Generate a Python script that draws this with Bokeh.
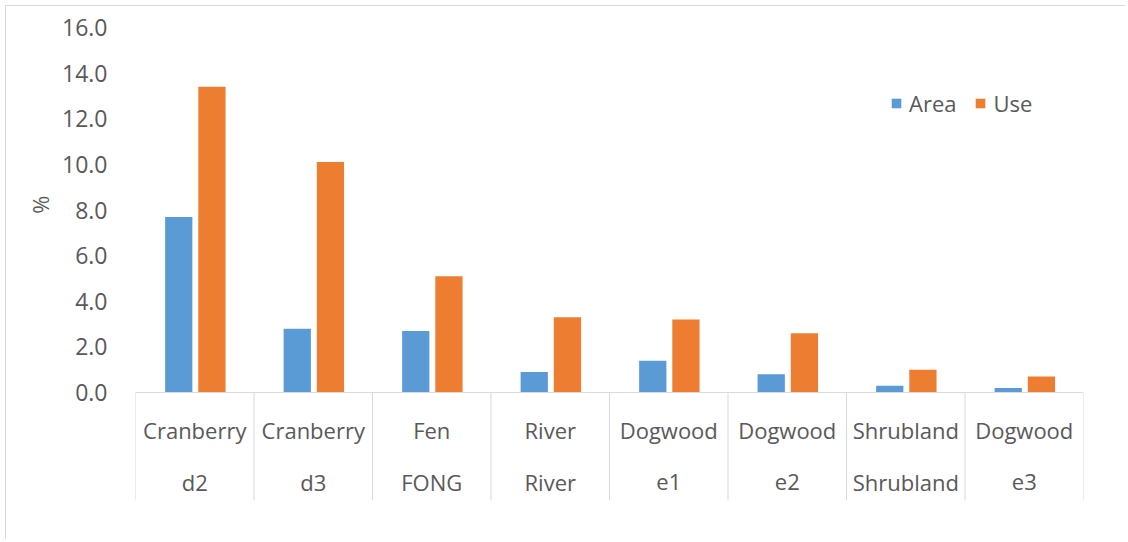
import numpy as np
from bokeh.plotting import figure
from bokeh.models import (Range1d, FixedTicker, NumeralTickFormatter, ColumnDataSource,
                          Legend, LegendItem, Title)
from bokeh.core.properties import value
from bokeh.transform import dodge
from bokeh.embed import file_html
from bokeh.resources import INLINE

top_labels = ["Cranberry", "Cranberry", "Fen", "River", "Dogwood", "Dogwood", "Shrubland", "Dogwood"]
bottom_labels = ["d2", "d3", "FONG", "River", "e1", "e2", "Shrubland", "e3"]
area = [7.7, 2.8, 2.7, 0.9, 1.4, 0.8, 0.3, 0.2]
use = [13.4, 10.1, 5.1, 3.3, 3.2, 2.6, 1.0, 0.7]
y_ticks = [0, 2, 4, 6, 8, 10, 12, 14, 16]

FONT = "Open Sans"
GRAY = "#595959"
LINE = "#d9d9d9"
Y_LOW = -4.73

n = len(area)
idx = np.arange(n)
src = ColumnDataSource(dict(x=idx + 0.5, area=area, use=use,
                            top=top_labels, bottom=bottom_labels))

p = figure(width=1120, height=534, output_backend="svg", toolbar_location=None,
           x_range=Range1d(0, n), y_range=Range1d(Y_LOW, 16),
           min_border_left=129, min_border_right=43, min_border_top=21,
           min_border_bottom=40)
p.outline_line_color = None
p.xgrid.visible = False
p.ygrid.visible = False
p.xaxis.visible = False

ya = p.yaxis[0]
ya.ticker = FixedTicker(ticks=y_ticks)
ya.formatter = NumeralTickFormatter(format="0.0")
ya.axis_line_color = None
ya.major_tick_line_color = None
ya.minor_tick_line_color = None
ya.major_label_standoff = 22
ya.major_label_text_font = FONT
ya.major_label_text_font_size = "23px"
ya.major_label_text_color = GRAY

r_area = p.vbar(x=dodge("x", -0.135, range=p.x_range), top="area", width=0.23,
                source=src, fill_color="#5B9BD5", line_color=None)
r_use = p.vbar(x=dodge("x", 0.145, range=p.x_range), top="use", width=0.23,
               source=src, fill_color="#ED7D31", line_color=None)

# baseline and category separators
p.segment(x0=[0], y0=[0], x1=[n], y1=[0], line_color=LINE, line_width=1)
sep = list(range(n + 1))
p.segment(x0=sep, y0=[0] * len(sep), x1=sep, y1=[Y_LOW] * len(sep),
          line_color=LINE, line_width=1)

p.text(x="x", y=-1.66, text="top", source=src, text_font=value(FONT),
       text_font_size="22px", text_color=GRAY, text_align="center",
       text_baseline="middle")
p.text(x="x", y=-3.9, text="bottom", source=src, text_font=value(FONT),
       text_font_size="22px", text_color=GRAY, text_align="center",
       text_baseline="middle")

p.add_layout(Title(text="%", align="right", offset=168, standoff=10,
                   text_font=FONT, text_font_size="22px", text_font_style="normal",
                   text_color=GRAY), "left")

legend = Legend(items=[LegendItem(label="Area", renderers=[r_area]),
                       LegendItem(label="Use", renderers=[r_use])],
                orientation="horizontal", location=(755, 382),
                glyph_width=12, glyph_height=12, label_standoff=7, spacing=18,
                padding=0, margin=0, border_line_color=None,
                background_fill_alpha=0, label_text_font=FONT,
                label_text_font_size="22px", label_text_color=GRAY)
p.add_layout(legend)

p.styles = {"margin-left": "5px", "margin-top": "5px",
            "border-top": "1px solid #d9d9d9", "border-left": "1px solid #d9d9d9"}

open("out.html", "w").write(file_html(p, INLINE))
